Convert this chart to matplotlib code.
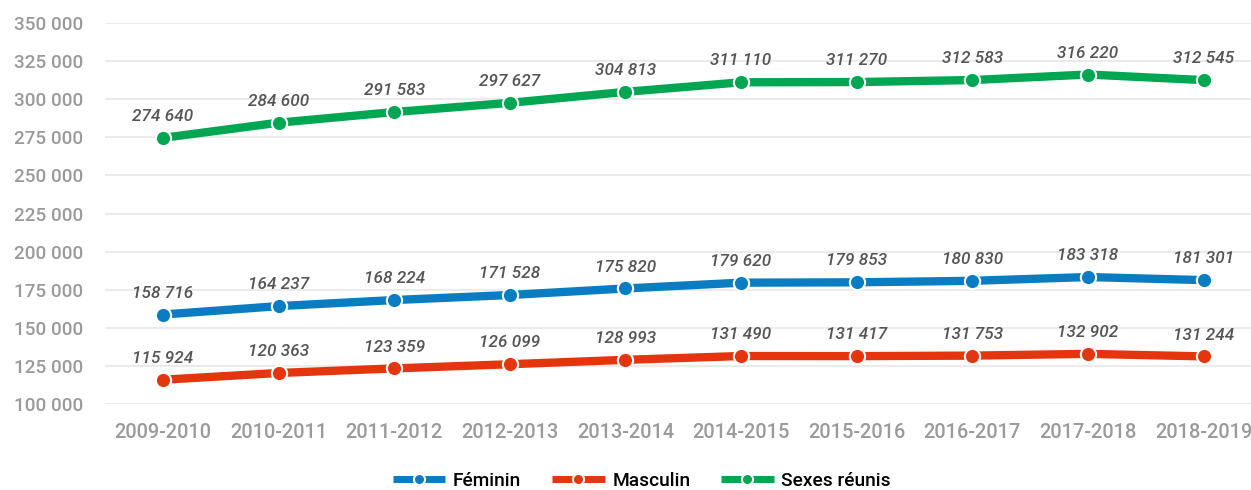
import matplotlib.pyplot as plt
from matplotlib.ticker import FuncFormatter

plt.rcParams['font.family'] = ['Roboto', 'DejaVu Sans']

years = ["2009-2010", "2010-2011", "2011-2012", "2012-2013", "2013-2014",
         "2014-2015", "2015-2016", "2016-2017", "2017-2018", "2018-2019"]
feminin = [158716, 164237, 168224, 171528, 175820, 179620, 179853, 180830, 183318, 181301]
masculin = [115924, 120363, 123359, 126099, 128993, 131490, 131417, 131753, 132902, 131244]
reunis = [274640, 284600, 291583, 297627, 304813, 311110, 311270, 312583, 316220, 312545]

series = [("Féminin", feminin, "#0A7DC2"),
          ("Masculin", masculin, "#E5350F"),
          ("Sexes réunis", reunis, "#00A651")]

def fmt(v):
    return f"{v:,}".replace(",", " ")

fig = plt.figure(figsize=(12.51, 4.90), dpi=100)
ax = fig.add_axes([0.084, 0.1755, 0.916, 0.7775])

x = list(range(len(years)))
for name, vals, col in series:
    ax.plot(x, vals, color=col, linewidth=6, marker="o", markersize=11,
            markerfacecolor=col, markeredgecolor="white", markeredgewidth=1.5,
            label=name, zorder=3, solid_capstyle="butt")
    for xi, v in zip(x, vals):
        ax.annotate(fmt(v), (xi, v), xytext=(0, 10), textcoords="offset points",
                    ha="center", va="bottom", fontsize=12.3, fontstyle="italic",
                    fontweight="medium", color="#555555")

ax.set_xlim(-0.5, 9.41)
ax.set_ylim(100000, 350000)
ax.set_yticks(range(100000, 350001, 25000))
ax.yaxis.set_major_formatter(FuncFormatter(lambda v, p: fmt(int(v))))
ax.set_xticks(x)
ax.set_xticklabels(years)
ax.grid(axis="y", color="#ebebeb", linewidth=1.5)
ax.set_axisbelow(True)
for s in ax.spines.values():
    s.set_visible(False)
ax.tick_params(length=0, labelcolor="#9a9a9a")
ax.tick_params(axis="x", pad=14, labelsize=14.4)
ax.tick_params(axis="y", pad=16, labelsize=13.6)
for lbl in ax.get_xticklabels() + ax.get_yticklabels():
    lbl.set_fontweight("medium")

leg = fig.legend(loc="lower center", bbox_to_anchor=(0.513, -0.035), ncol=3,
                 frameon=False, fontsize=13.8, handlelength=2.75, columnspacing=1.6,
                 handletextpad=0.4)
for t in leg.get_texts():
    t.set_fontweight("medium")
for h in leg.legend_handles:
    h.set_linewidth(5)
    h.set_markersize(8)

fig.savefig("out.png", dpi=100)
